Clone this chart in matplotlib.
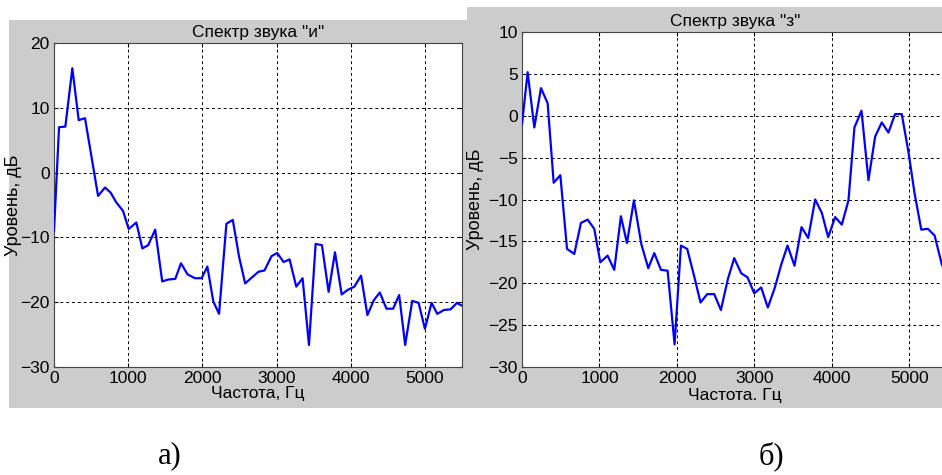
import matplotlib.pyplot as plt
from matplotlib.patches import Rectangle

# Спектр звука "и": частота (Гц) и уровень (дБ)
freq_i = [0, 68, 153, 247, 333, 418, 512, 594, 688, 764, 840, 930, 1007,
          1110, 1191, 1270, 1364, 1459, 1540, 1635, 1712, 1800, 1900, 1990,
          2067, 2148, 2225, 2324, 2410, 2495, 2577, 2676, 2757, 2838, 2932,
          3009, 3095, 3176, 3266, 3351, 3437, 3527, 3612, 3702, 3788, 3878,
          3959, 4049, 4139, 4225, 4311, 4392, 4482, 4572, 4653, 4734, 4829,
          4915, 5000, 5090, 5167, 5257, 5347, 5432, 5508]
level_i = [-9.0, 7.0, 7.1, 16.1, 8.1, 8.4, 2.0, -3.6, -2.3, -3.1, -4.6, -5.9,
           -8.7, -7.7, -11.7, -11.2, -8.8, -16.8, -16.5, -16.4, -14.0, -15.7,
           -16.3, -16.3, -14.5, -19.9, -21.8, -7.9, -7.3, -13.0, -17.1, -16.1,
           -15.3, -15.1, -12.9, -12.4, -13.8, -13.4, -17.6, -16.3, -26.6,
           -11.0, -11.2, -18.4, -12.3, -18.8, -18.1, -17.6, -15.9, -22.0,
           -19.7, -18.5, -21.0, -21.0, -18.9, -26.6, -19.8, -20.1, -24.1,
           -20.1, -21.8, -21.2, -21.1, -20.1, -20.6]

# Спектр звука "з"
freq_z = [0, 73, 159, 245, 331, 409, 495, 581, 675, 761, 847, 933, 1011,
          1105, 1191, 1277, 1355, 1445, 1540, 1630, 1708, 1794, 1880, 1970,
          2052, 2133, 2224, 2305, 2391, 2482, 2568, 2658, 2740, 2830, 2912,
          2998, 3088, 3174, 3265, 3346, 3428, 3518, 3609, 3695, 3785, 3871,
          3953, 4043, 4129, 4215, 4292, 4383, 4473, 4559, 4645, 4731, 4817,
          4903, 4989, 5069, 5155, 5241, 5327, 5419, 5500]
level_z = [-1.0, 5.2, -1.4, 3.3, 1.5, -8.0, -7.1, -15.9, -16.5, -12.8, -12.4,
           -13.5, -17.5, -16.7, -18.4, -12.0, -15.2, -10.1, -15.3, -18.2,
           -16.4, -18.4, -18.5, -27.3, -15.5, -15.9, -19.2, -22.3, -21.3,
           -21.3, -23.2, -19.5, -17.0, -18.8, -19.3, -21.2, -20.5, -22.9,
           -20.5, -17.8, -15.5, -17.9, -13.3, -14.6, -10.0, -11.6, -14.5,
           -12.1, -13.0, -10.1, -1.4, 0.6, -7.7, -2.5, -0.8, -2.0, 0.2, 0.2,
           -4.3, -9.3, -13.6, -13.5, -14.3, -17.7, -19.5]

xticks = [0, 1000, 2000, 3000, 4000, 5000]
yticks_i = [20, 10, 0, -10, -20, -30]
yticks_z = [10, 5, 0, -5, -10, -15, -20, -25, -30]

W, H = 942, 475
GRAY = '#cccccc'
plt.rcParams['font.family'] = ['Liberation Sans', 'DejaVu Sans']

fig = plt.figure(figsize=(W / 100, H / 100), dpi=100)
fig.patch.set_facecolor('white')


def px_rect(x0, y0, x1, y1):
    # прямоугольник в пикселях (отсчёт сверху) -> доли фигуры
    return [x0 / W, 1 - y1 / H, (x1 - x0) / W, (y1 - y0) / H]


# серые подложки окон
for x0, y0, x1, y1 in [(9, 20, 467, 408), (467, 7, 942, 408)]:
    l, b, w, h = px_rect(x0, y0, x1, y1)
    fig.patches.append(Rectangle((l, b), w, h, transform=fig.transFigure,
                                 facecolor=GRAY, edgecolor='none', zorder=-10))


def draw_panel(rect, f, lvl, yticks, title, xlabel):
    ax = fig.add_axes(px_rect(*rect))
    ax.set_facecolor('white')
    ax.plot(f, lvl, color='#0000ff', lw=1.6, zorder=3)
    ax.set_xlim(0, 5500)
    ax.set_ylim(min(yticks), max(yticks))
    ax.set_xticks(xticks)
    ax.set_yticks(yticks)
    ax.grid(True, color='black', linestyle=(0, (3, 3)), linewidth=0.7)
    ax.tick_params(direction='in', top=True, right=True, length=3,
                   labelsize=12.5, pad=3)
    for s in ax.spines.values():
        s.set_linewidth(0.8)
        s.set_color('#444444')
    ax.set_title(title, fontsize=12.5, pad=4)
    ax.set_xlabel(xlabel, fontsize=12.5)
    ax.set_ylabel('Уровень, дБ', fontsize=13)
    return ax


ax1 = draw_panel((54, 43, 462, 367), freq_i, level_i, yticks_i,
                 'Спектр звука "и"', 'Частота, Гц')
ax1.yaxis.set_label_coords(-0.078, 0.5)
ax1.xaxis.set_label_coords(0.5, -0.059)

ax2 = draw_panel((522, 32, 948, 367), freq_z, level_z, yticks_z,
                 'Спектр звука "з"', 'Частота. Гц')
ax2.yaxis.set_label_coords(-0.09, 0.5)
ax2.xaxis.set_label_coords(0.5, -0.063)

# подписи под рисунками
fig.text(170 / W, 1 - 456 / H, 'а)', family='Liberation Serif', fontsize=22,
         ha='center', va='center')
fig.text(771 / W, 1 - 456 / H, 'б)', family='Liberation Serif', fontsize=22,
         ha='center', va='center')

fig.savefig('out.png', dpi=100)
